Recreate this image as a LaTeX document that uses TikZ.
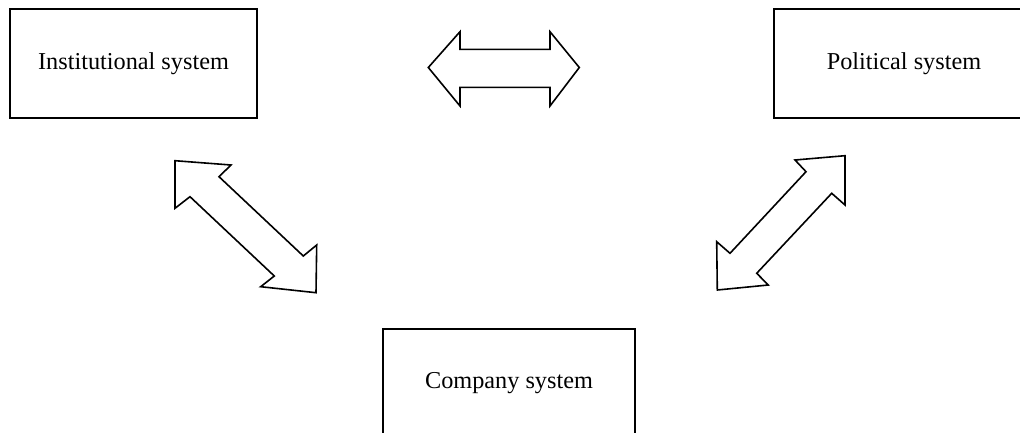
\documentclass[tikz,border=0pt]{standalone}
\usepackage{fontspec}
\setmainfont{Liberation Serif}
\begin{document}
\begin{tikzpicture}[x=0.75pt,y=-0.75pt,
  sysbox/.style={draw=black,line width=1.6pt,fill=white,inner sep=0pt,
    font=\fontsize{18.2}{22}\selectfont},
  blockarrow/.style={draw=black,line width=1.2pt,line join=miter,fill=white}]
\useasboundingbox (0,0) rectangle (1020,432);
\clip (0,0) rectangle (1020,432);
\node[sysbox,minimum width=247*0.75pt,minimum height=109*0.75pt] (inst) at (133.5,63.5) {Institutional system};
\node[sysbox,minimum width=260*0.75pt,minimum height=109*0.75pt] (pol) at (904,63.5) {Political system};
\node[sysbox,minimum width=252*0.75pt,minimum height=108*0.75pt] (comp) at (509,383) {Company system};
% horizontal double arrow
\draw[blockarrow] (428.3,67.5) -- (460,31.7) -- (460,49.3) -- (550,49.3) -- (550,31.7)
  -- (579.3,67.5) -- (550,106) -- (550,87.3) -- (460,87.3) -- (460,106) -- cycle;
% left diagonal double arrow
\draw[blockarrow] (175,160.7) -- (231,165) -- (219,176.7) -- (303.3,256) -- (316.7,245)
  -- (316,292.7) -- (260.7,286.7) -- (274.3,276) -- (190,196.7) -- (175,208.3) -- cycle;
% right diagonal double arrow
\draw[blockarrow] (845,155.7) -- (845,205) -- (831.7,193.3) -- (756.7,273.3) -- (768.3,285)
  -- (717.3,290) -- (716.7,241.7) -- (730,253.3) -- (806,171.7) -- (795,160) -- cycle;
\end{tikzpicture}
\end{document}
